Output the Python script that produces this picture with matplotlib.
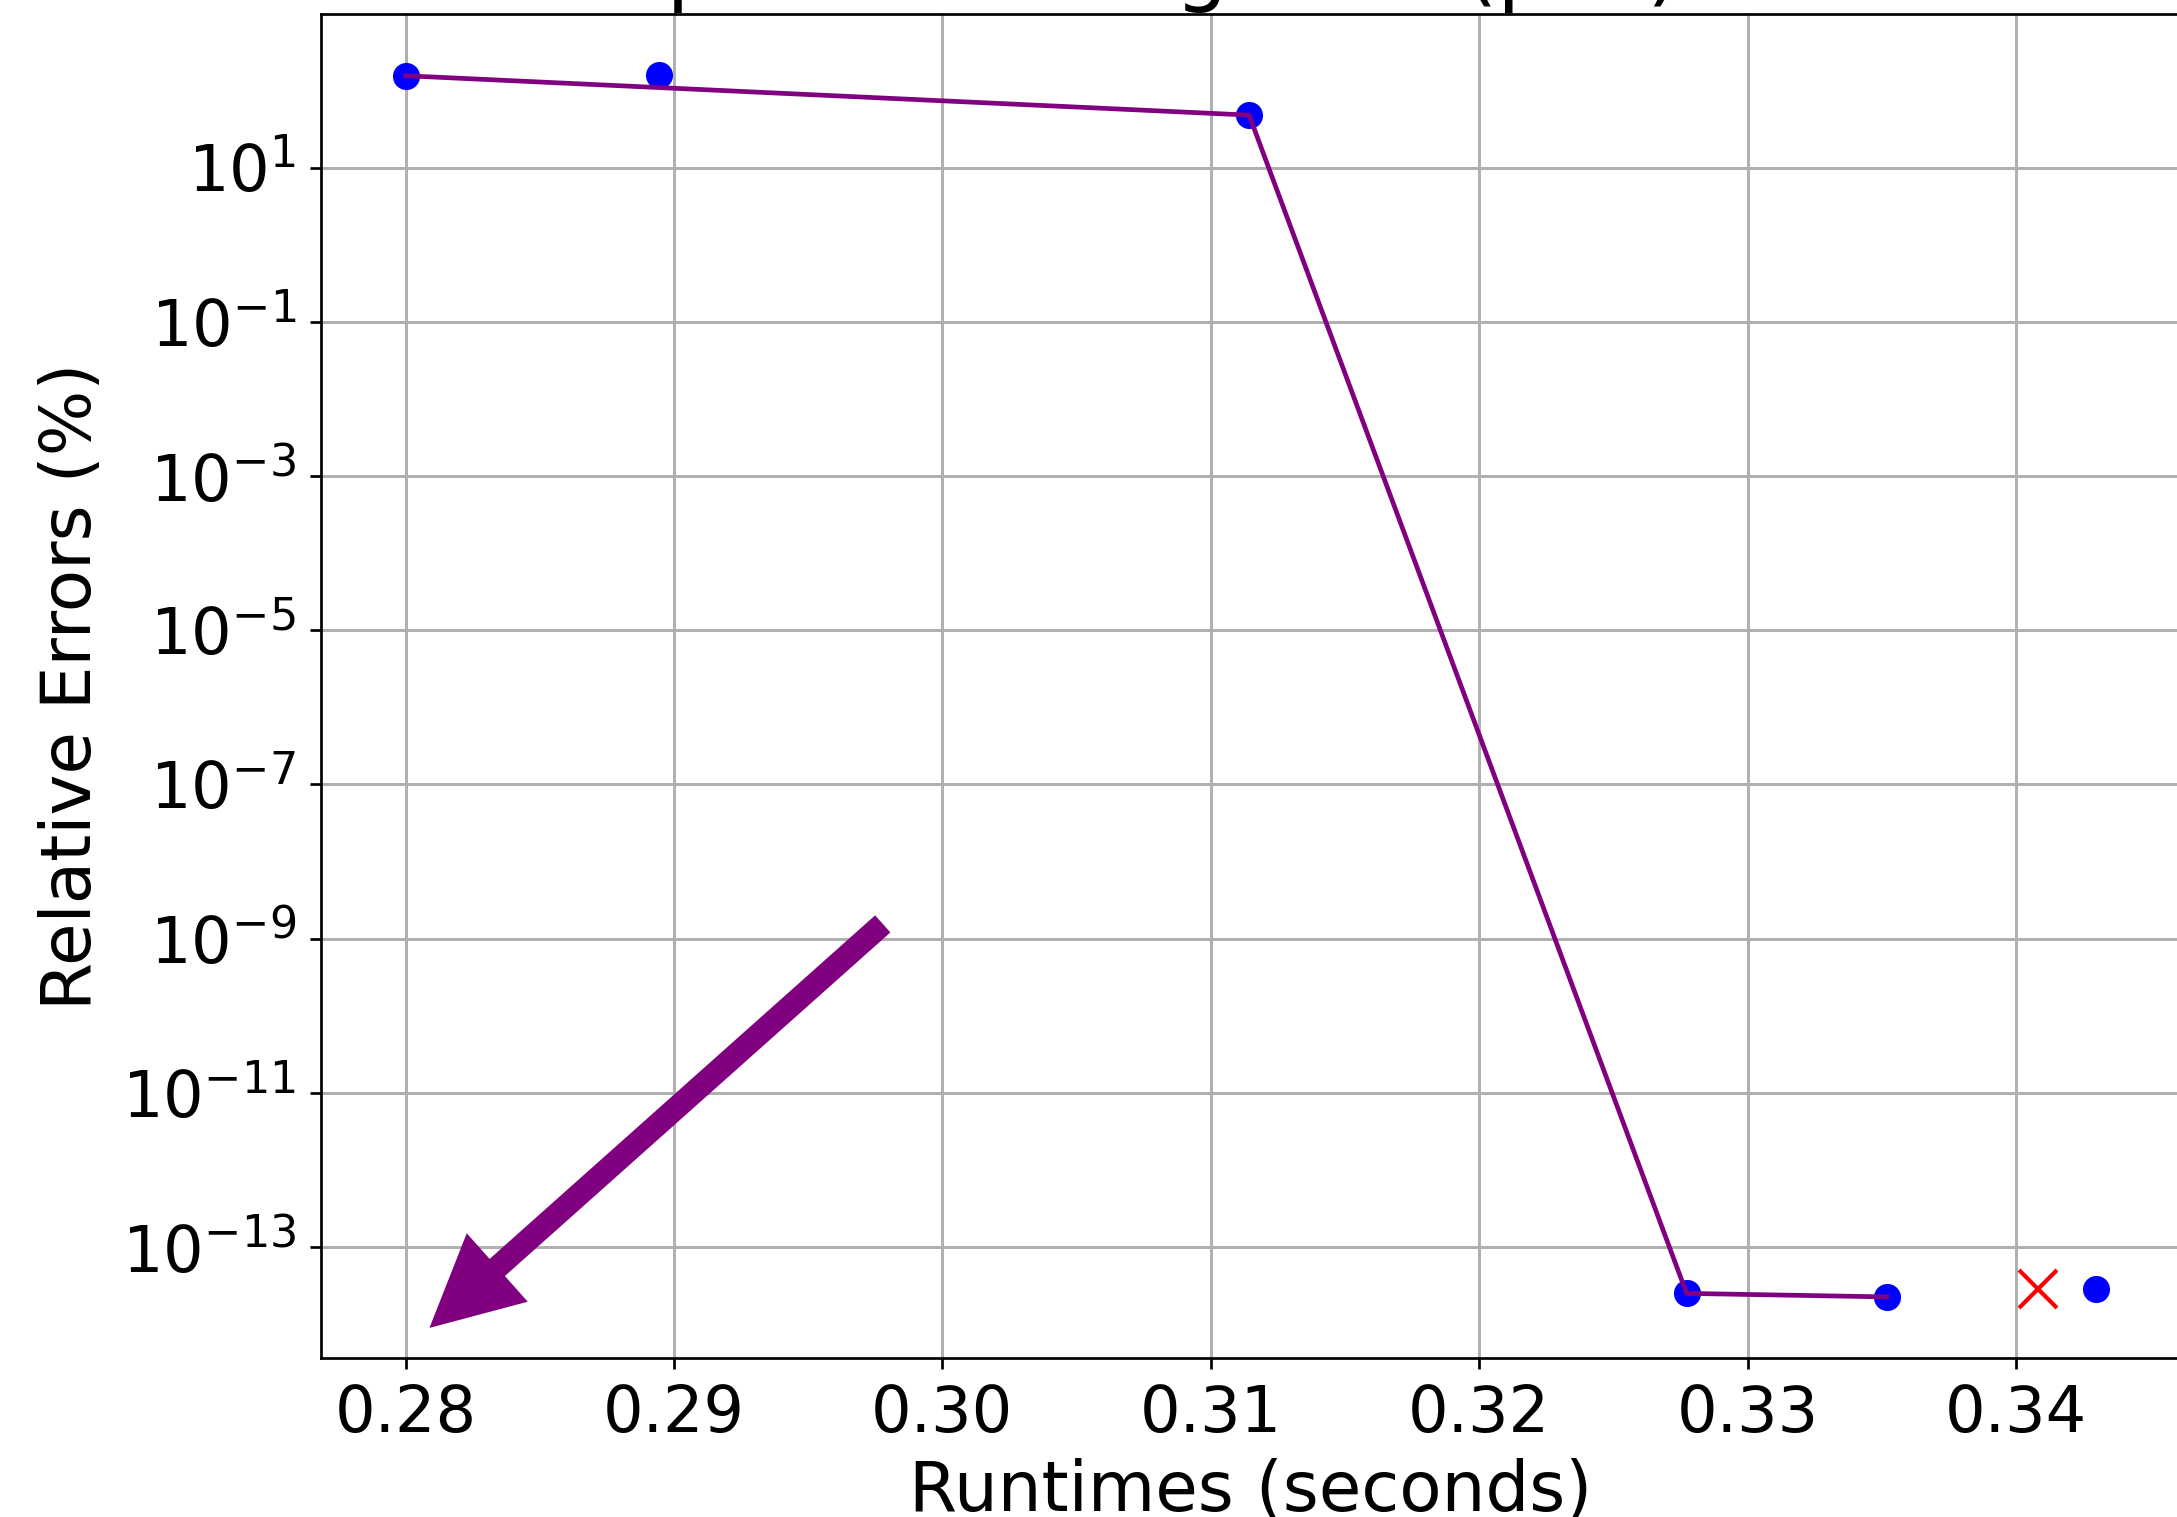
import numpy as np
import matplotlib
matplotlib.use('Agg')
import matplotlib.pyplot as plt
from matplotlib.ticker import NullLocator

# runtimes (s) and relative errors (%) for each run
runtimes = [0.2800, 0.28943, 0.31143, 0.32773, 0.33519, 0.3430]
errors = [155.0, 158.0, 47.8, 2.5e-14, 2.25e-14, 2.86e-14]
pareto_idx = [0, 2, 3, 4]  # points on the front

ref_runtime = [0.34082]
ref_error = [2.86e-14]

# arrow towards the "better" corner
arrow_tail = (0.29778, 10**-8.81)
arrow_head = (0.28089, 10**-14.05)

ytick_exps = [1, -1, -3, -5, -7, -9, -11, -13]

fig = plt.figure(figsize=(2177/300, 1517/300), dpi=300)
ax = fig.add_axes([321/2177, 159/1517, 1860/2177, 1344/1517])

ax.plot(runtimes, errors, 'o', color='blue', markersize=5.5, zorder=2)
ax.plot(ref_runtime, ref_error, 'x', color='red', markersize=8.9, mew=1.0, zorder=2)
pr = [runtimes[i] for i in pareto_idx]
pe = [errors[i] for i in pareto_idx]
ax.plot(pr, pe, '-', color='purple', lw=1.13, zorder=3)

ax.set_yscale('log')
ax.set_yticks([10.0**e for e in ytick_exps])
ax.yaxis.set_minor_locator(NullLocator())
ax.set_xticks([0.28, 0.29, 0.30, 0.31, 0.32, 0.33, 0.34])
ax.set_xticklabels(['0.28', '0.29', '0.30', '0.31', '0.32', '0.33', '0.34'])

ax.annotate('', xy=arrow_head, xytext=arrow_tail,
            arrowprops=dict(facecolor='purple', edgecolor='purple', lw=0,
                            width=5.5, headwidth=22, headlength=21.8))

ax.grid(True, color='#b0b0b0', lw=0.72)
ax.set_axisbelow(True)
ax.tick_params(labelsize=15.3, length=2.6, width=0.65, pad=3.4)
for s in ax.spines.values():
    s.set_linewidth(0.65)

ax.set_xlabel('Runtimes (seconds)', fontsize=16.6, labelpad=3)
ax.set_ylabel('Relative Errors (%)', fontsize=16.6)

# title sits mostly above the visible area, only descenders show
fig.text(238/2177, 1 - 12.7/1517, 'Error vs. Speed for Programs (pca)',
         fontsize=20, ha='left', va='bottom')

fig.savefig('out.png', dpi=300)
